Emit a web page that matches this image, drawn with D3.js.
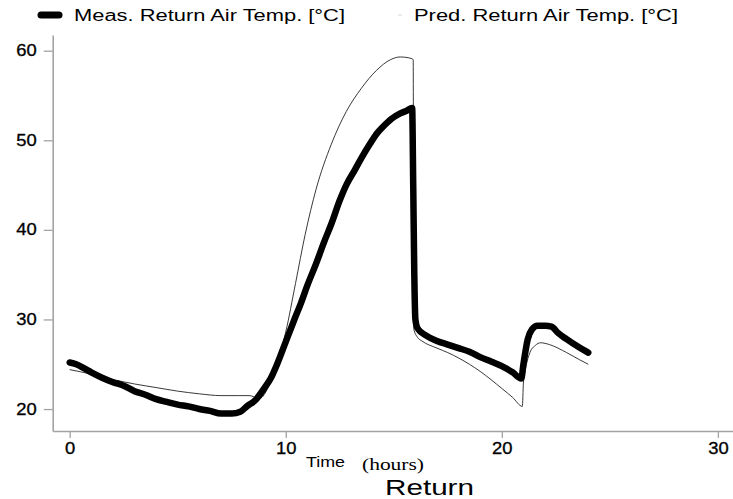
<!DOCTYPE html>
<html><head><meta charset="utf-8">
<script src="https://cdn.jsdelivr.net/npm/d3@7"></script>
<style>
html,body{margin:0;padding:0;background:#fff;}
svg{display:block;}
text{font-family:Arial,"Liberation Sans",sans-serif;}
</style></head>
<body>
<svg id="chart" width="733" height="499"></svg>
<script>
// ---- data ----
const measTime = [0,0.3,0.7,1.0,1.5,2.0,2.5,3.0,3.5,4.0,4.5,5.0,5.5,6.0,6.5,7.0,7.5,7.9,8.2,8.6,9.0,9.3,9.6,10.0,10.4,10.7,11.0,11.4,11.8,12.1,12.5,12.8,13.2,13.5,13.9,14.2,14.5,14.9,15.3,15.6,15.85,15.9,15.95,16.0,16.1,16.5,17.0,17.5,18.0,18.5,19.0,19.5,20.0,20.5,20.9,21.0,21.2,21.4,21.65,22.0,22.3,22.6,23.0,23.5,24.0];
const measTemp = [25.2,25.0,24.5,24.1,23.5,23.0,22.6,22.0,21.6,21.1,20.8,20.5,20.3,20.0,19.8,19.5,19.5,19.7,20.3,21.0,22.3,23.4,25.0,27.5,30.0,31.8,33.8,36.2,38.8,40.6,43.3,45.0,46.7,48.0,49.6,50.7,51.5,52.4,53.0,53.3,53.6,45.0,35.0,30.0,29.0,28.2,27.6,27.2,26.8,26.4,25.8,25.3,24.8,24.1,23.4,25.0,27.8,28.9,29.3,29.3,29.2,28.5,27.8,27.0,26.3];
const predTime = [0,1,2,3,4,5,6,7,7.8,8.3,8.8,9.2,9.5,10.0,10.45,10.9,11.4,12.1,12.8,13.5,14.2,14.85,15.3,15.7,15.9,15.92,16.1,16.3,17.0,17.5,18.0,19.0,20.0,20.5,20.95,21.0,21.1,21.3,21.55,21.8,22.2,23.0,23.6,24.0];
const predTemp = [24.4,23.9,23.3,22.8,22.4,22.0,21.7,21.5,21.5,21.5,21.2,22.5,24.4,28.6,34.0,39.5,44.5,49.5,53.2,55.8,57.8,59.0,59.3,59.2,59.0,29.0,28.0,27.6,26.8,26.3,25.7,24.2,22.3,21.3,20.3,22.9,24.5,26.3,27.1,27.4,27.2,26.3,25.5,25.0];
const xTicks = [0,10,20,30];
const yTicks = [20,30,40,50,60];
const seriesNames = ["Meas. Return Air Temp. [°C]","Pred. Return Air Temp. [°C]"];
const xLabelA = "Time", xLabelB = "(hours)", chartTitle = "Return";

// ---- drawing ----
const svg = d3.select("#chart");
const x = d3.scaleLinear().domain([-0.786, 30.7]).range([52.7, 733]);
const y = d3.scaleLinear().domain([17.55, 61.75]).range([431, 35]);

const axisColor = "#a3a3a3";
const gx = svg.append("g").attr("transform","translate(0,431)")
  .call(d3.axisBottom(x).tickValues(xTicks).tickSize(7).tickSizeOuter(0).tickPadding(5));
const gy = svg.append("g").attr("transform","translate(52.7,0)")
  .call(d3.axisLeft(y).tickValues(yTicks).tickSize(9).tickSizeOuter(0).tickPadding(6));
[gx,gy].forEach(g=>{
  g.select(".domain").attr("stroke",axisColor).attr("stroke-width",1.6);
  g.selectAll(".tick line").attr("stroke",axisColor).attr("stroke-width",1.3);
  g.selectAll(".tick text").attr("fill","#000").style("font-size","16px")
    .style("font-family","Arial, 'Liberation Sans', sans-serif").style("stroke","#000").style("stroke-width","0.3px");
});
gx.selectAll(".tick text").attr("transform","scale(1.15,1)");
gy.selectAll(".tick text").attr("transform","scale(1.15,1)").attr("x", -16/1.15);

const predPts = predTime.map((t,i)=>[t,predTemp[i]]);
const measPts = measTime.map((t,i)=>[t,measTemp[i]]);

svg.append("path").datum(predPts)
  .attr("fill","none").attr("stroke","#222").attr("stroke-width",0.9)
  .attr("d", d3.line().x(d=>x(d[0])).y(d=>y(d[1])).curve(d3.curveMonotoneX));

svg.append("path").datum(measPts)
  .attr("fill","none").attr("stroke","#000").attr("stroke-width",6.5)
  .attr("stroke-linejoin","round").attr("stroke-linecap","round")
  .attr("d", d3.line().x(d=>x(d[0])).y(d=>y(d[1])).curve(d3.curveMonotoneX));

// legend
svg.append("line").attr("x1",41).attr("x2",59).attr("y1",15).attr("y2",15)
  .attr("stroke","#000").attr("stroke-width",7).attr("stroke-linecap","round");
svg.append("text").attr("x",74).attr("y",21).attr("textLength",271).attr("lengthAdjust","spacingAndGlyphs")
  .style("font-size","16px").text(seriesNames[0]);
svg.append("line").attr("x1",398).attr("x2",402).attr("y1",15).attr("y2",15)
  .attr("stroke","#bbb").attr("stroke-width",0.6);
svg.append("text").attr("x",414).attr("y",21).attr("textLength",264).attr("lengthAdjust","spacingAndGlyphs")
  .style("font-size","16px").text(seriesNames[1]);

// axis title
svg.append("text").attr("x",306).attr("y",467).attr("textLength",39).attr("lengthAdjust","spacingAndGlyphs")
  .style("font-size","15px").text(xLabelA);
svg.append("text").attr("x",362).attr("y",470).attr("textLength",62).attr("lengthAdjust","spacingAndGlyphs")
  .style("font-family","'Liberation Serif','DejaVu Serif',serif").style("font-size","17px").text(xLabelB);
svg.append("text").attr("x",385).attr("y",495).attr("textLength",89).attr("lengthAdjust","spacingAndGlyphs")
  .style("font-size","22px").text(chartTitle);
</script>
</body></html>
